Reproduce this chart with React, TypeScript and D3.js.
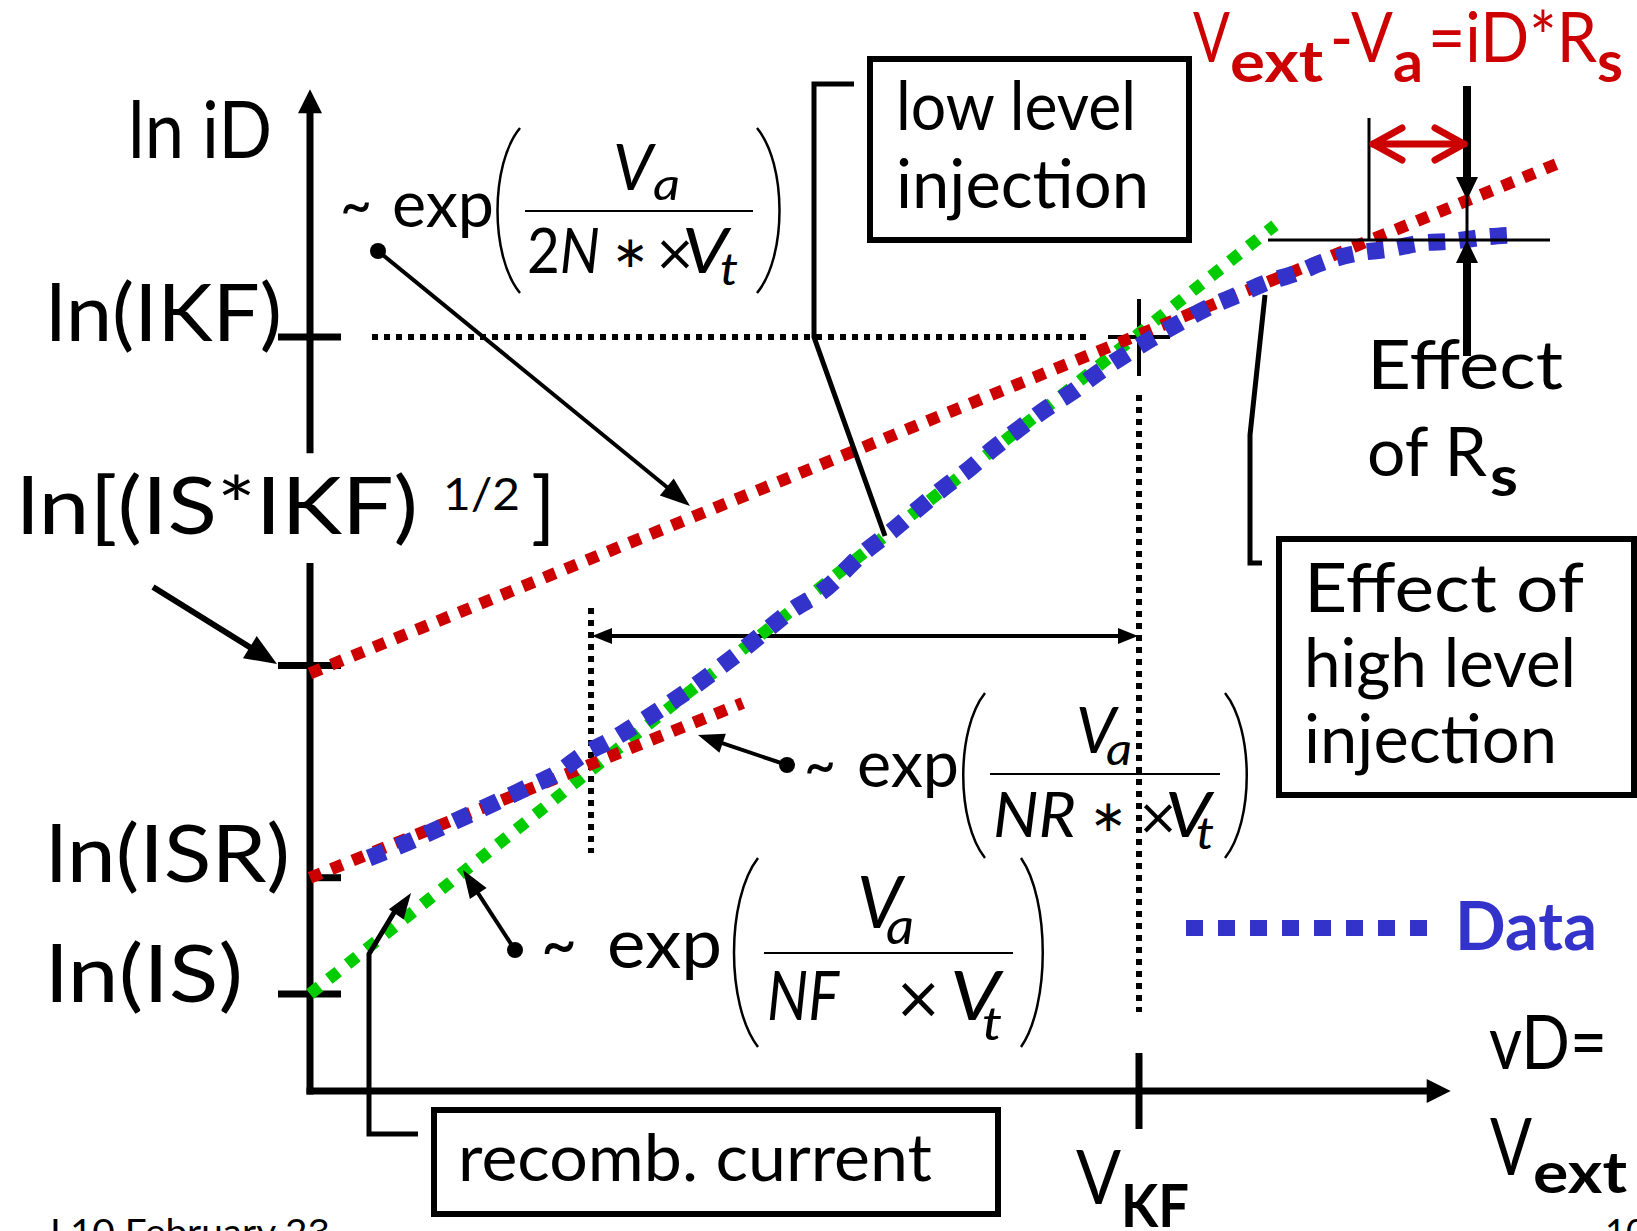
import React from "react";
import * as d3 from "d3";

const W = 1637;
const H = 1231;

// ---------- data (log-current units: ln(IS)=0, ln(IKF)=10; voltage units: VKF=1) ----------
const yTickLabels = ["ln(IKF)", "ln[(IS*IKF)", "ln(ISR)", "ln(IS)"];
const yTickValues = [10, 5, 1.77, 0];
const xTickLabels = ["V"];
const xTickValues = [1];

const greenX = [0, 1.164];
const greenY = [0, 11.7];
const redHighX = [0, 1.509];
const redHighY = [4.88, 12.66];
const redRecombX = [0, 0.522];
const redRecombY = [1.77, 4.43];

const dataX = [0.071, 0.122, 0.159, 0.228, 0.263, 0.298, 0.329, 0.361, 0.396, 0.427, 0.462, 0.493, 0.522, 0.554, 0.581, 0.615, 0.672, 0.703, 0.732, 0.764, 0.795, 0.824, 0.855, 0.887, 0.918, 0.949, 0.981, 1.012, 1.051, 1.082, 1.119, 1.152, 1.189, 1.227, 1.265, 1.303, 1.34, 1.379, 1.416, 1.448];
const dataY = [2.07, 2.33, 2.54, 2.94, 3.15, 3.36, 3.64, 3.85, 4.12, 4.37, 4.67, 4.96, 5.24, 5.57, 5.84, 6.1, 6.76, 7.06, 7.37, 7.7, 7.99, 8.3, 8.6, 8.9, 9.15, 9.44, 9.71, 9.95, 10.23, 10.44, 10.64, 10.82, 10.97, 11.16, 11.28, 11.34, 11.43, 11.46, 11.52, 11.55];

const axisXMax = 1.376;
const axisYMin = -1.476;
const axisYMax = 13.77;
const axisYGap = [6.56, 8.23];
const rangeStartX = 0.339;

const RED = "#CC0000";
const GREEN = "#00CC00";
const BLUE = "#3333CC";
const FONT = "Lato, 'DejaVu Sans', sans-serif";
const MATHFONT = "'DejaVu Sans', sans-serif";

function head(tx: number, ty: number, fx: number, fy: number, len: number, hw: number) {
  const dx = tx - fx, dy = ty - fy;
  const d = Math.hypot(dx, dy);
  const ux = dx / d, uy = dy / d;
  const bx = tx - ux * len, by = ty - uy * len;
  return `${tx},${ty} ${bx - uy * hw},${by + ux * hw} ${bx + uy * hw},${by - ux * hw}`;
}
function base(tx: number, ty: number, fx: number, fy: number, len: number) {
  const dx = tx - fx, dy = ty - fy;
  const d = Math.hypot(dx, dy);
  return [tx - (dx / d) * len, ty - (dy / d) * len];
}

function Pointer({ fx, fy, tx, ty, w = 4, len = 28, hw = 10, dot = true }: any) {
  const [bx, by] = base(tx, ty, fx, fy, len - 2);
  return (
    <g>
      {dot && <circle cx={fx} cy={fy} r={8} fill="#000" />}
      <line x1={fx} y1={fy} x2={bx} y2={by} stroke="#000" strokeWidth={w} />
      <polygon points={head(tx, ty, fx, fy, len, hw)} fill="#000" />
    </g>
  );
}

function T({ x, y, s, children, len, bold, italic, fill = "#000", anchor, family }: any) {
  return (
    <text
      x={x}
      y={y}
      fontSize={s}
      fontFamily={family || FONT}
      fontWeight={bold ? "bold" : "normal"}
      fontStyle={italic ? "italic" : "normal"}
      fill={fill}
      textAnchor={anchor}
      textLength={len}
      lengthAdjust={len ? "spacingAndGlyphs" : undefined}
    >
      {children}
    </text>
  );
}

function Paren({ xi, xo, y1, y2 }: any) {
  const h = y2 - y1;
  const d = `M${xi},${y1} C${xo},${y1 + h * 0.22} ${xo},${y2 - h * 0.22} ${xi},${y2}`;
  return <path d={d} fill="none" stroke="#000" strokeWidth={2.5} />;
}

export default function App() {
  const x = d3.scaleLinear().domain([0, 1]).range([310, 1139]);
  const y = d3.scaleLinear().domain([0, 10]).range([994, 337]);
  const line = d3.line<[number, number]>().x((d) => x(d[0])).y((d) => y(d[1]));
  const smooth = d3.line<[number, number]>().x((d) => x(d[0])).y((d) => y(d[1])).curve(d3.curveMonotoneX);
  const zip = (a: number[], b: number[]) => a.map((v, i) => [v, b[i]] as [number, number]);

  const x0 = x(0);
  const yb = y(axisYMin);
  const xe = x(axisXMax);
  const yt = y(axisYMax);
  const vkf = x(xTickValues[0]);
  const ikf = y(yTickValues[0]);
  const xr = x(rangeStartX);

  const tickLeft = [true, true, false, true];

  return (
    <svg width={W} height={H} viewBox={`0 0 ${W} ${H}`} style={{ position: "absolute", left: 0, top: 0, background: "#fff" }}>
      <rect x={0} y={0} width={W} height={H} fill="#fff" />

      {/* guide dotted lines */}
      <line x1={372} x2={1087} y1={ikf} y2={ikf} stroke="#000" strokeWidth={6} strokeDasharray="6 6" />
      <line x1={vkf} x2={vkf} y1={395} y2={1012} stroke="#000" strokeWidth={6} strokeDasharray="6 6" />
      <line x1={xr} x2={xr} y1={608} y2={853} stroke="#000" strokeWidth={6} strokeDasharray="6 6" />

      {/* double arrow between xr and VKF */}
      <line x1={xr + 15} x2={vkf - 15} y1={636} y2={636} stroke="#000" strokeWidth={4} />
      <polygon points={head(xr + 1, 636, vkf, 636, 20, 8)} fill="#000" />
      <polygon points={head(vkf - 1, 636, xr, 636, 20, 8)} fill="#000" />

      {/* axes */}
      <line x1={x0} x2={x0} y1={yt + 20} y2={y(axisYGap[1])} stroke="#000" strokeWidth={7} />
      <line x1={x0} x2={x0} y1={y(axisYGap[0])} y2={yb + 3.5} stroke="#000" strokeWidth={7} />
      <polygon points={`${x0},${yt} ${x0 - 12},${yt + 24} ${x0 + 12},${yt + 24}`} fill="#000" />
      <line x1={x0 - 3.5} x2={xe - 20} y1={yb} y2={yb} stroke="#000" strokeWidth={7} />
      <polygon points={`${xe},${yb} ${xe - 24},${yb - 12} ${xe - 24},${yb + 12}`} fill="#000" />

      {/* y ticks */}
      {yTickValues.map((v, i) => (
        <line key={i} x1={tickLeft[i] ? x0 - 32 : x0} x2={x0 + 31} y1={y(v)} y2={y(v)} stroke="#000" strokeWidth={7} />
      ))}
      {/* x tick */}
      <line x1={vkf} x2={vkf} y1={yb - 38} y2={yb + 38} stroke="#000" strokeWidth={7} />

      {/* crosshair */}
      <line x1={vkf} x2={vkf} y1={ikf - 38} y2={ikf + 39} stroke="#000" strokeWidth={4} />
      <line x1={vkf - 31} x2={vkf + 31} y1={ikf} y2={ikf} stroke="#000" strokeWidth={4} />

      {/* curves */}
      <path d={line(zip(greenX, greenY)) || ""} fill="none" stroke={GREEN} strokeWidth={12} strokeDasharray="12 12" />
      <path d={line(zip(redHighX, redHighY)) || ""} fill="none" stroke={RED} strokeWidth={12} strokeDasharray="12 11" />
      <path d={line(zip(redRecombX, redRecombY)) || ""} fill="none" stroke={RED} strokeWidth={12} strokeDasharray="12 11" />
      <path d={smooth(zip(dataX, dataY)) || ""} fill="none" stroke={BLUE} strokeWidth={17} strokeDasharray="17 14" />

      {/* Rs annotation */}
      <line x1={1268} x2={1550} y1={240} y2={240} stroke="#000" strokeWidth={3} />
      <line x1={1369} x2={1369} y1={118} y2={240} stroke="#000" strokeWidth={3} />
      <line x1={1467} x2={1467} y1={86} y2={180} stroke="#000" strokeWidth={8} />
      <polygon points="1467,200 1456,177 1478,177" fill="#000" />
      <line x1={1467} x2={1467} y1={198} y2={242} stroke="#000" strokeWidth={3} />
      <polygon points="1467,240 1456,263 1478,263" fill="#000" />
      <line x1={1467} x2={1467} y1={260} y2={356} stroke="#000" strokeWidth={8} />
      <g stroke={RED} strokeWidth={7} strokeLinecap="round" strokeLinejoin="round" fill="none">
        <line x1={1373} x2={1464} y1={144} y2={144} />
        <polyline points="1402,128 1373,144 1402,160" />
        <polyline points="1435,128 1464,144 1435,160" />
      </g>

      {/* brackets */}
      <polyline points={`854,84 814,84 814,${ikf} 885,536`} fill="none" stroke="#000" strokeWidth={5} />
      <polyline points="1262,563 1250,563 1250,435 1265,295" fill="none" stroke="#000" strokeWidth={5} />
      <polyline points="418,1134 369,1134 369,954 398,906" fill="none" stroke="#000" strokeWidth={5} />
      <polygon points={head(411, 893, 369, 954, 26, 9)} fill="#000" />

      {/* pointer arrows */}
      <Pointer fx={153} fy={587} tx={277} ty={664} w={6} len={32} hw={13} dot={false} />
      <Pointer fx={378} fy={251} tx={690} ty={506} w={4} len={30} hw={11} />
      <Pointer fx={787} fy={765} tx={698} ty={735} w={4} len={26} hw={10} />
      <Pointer fx={515} fy={950} tx={463} ty={870} w={4} len={28} hw={10} />

      {/* boxes */}
      <rect x={870} y={59} width={319} height={181} fill="none" stroke="#000" strokeWidth={6} />
      <rect x={1279} y={539} width={355} height={256} fill="none" stroke="#000" strokeWidth={6} />
      <rect x={434} y={1110} width={564} height={104} fill="none" stroke="#000" strokeWidth={6} />

      {/* legend */}
      <line x1={1186} x2={1427} y1={928} y2={928} stroke={BLUE} strokeWidth={16} strokeDasharray="17 15" />
      <T x={1455} y={950} s={66} len={142} bold fill={BLUE}>Data</T>

      {/* axis labels */}
      <T x={128} y={158} s={80} len={144}>ln iD</T>
      <T x={46} y={341} s={80} len={236}>{yTickLabels[0]}</T>
      <T x={17} y={534} s={80} len={401}>{yTickLabels[1]}</T>
      <T x={443} y={510} s={44} len={77}>1/2</T>
      <T x={531} y={534} s={80}>]</T>
      <T x={46} y={882} s={80} len={244}>{yTickLabels[2]}</T>
      <T x={46} y={1002} s={80} len={197}>{yTickLabels[3]}</T>
      <T x={1076} y={1204} s={76} len={45}>{xTickLabels[0]}</T>
      <T x={1121} y={1227} s={60} len={68} bold>KF</T>
      <T x={1489} y={1069} s={76} len={118}>vD=</T>
      <T x={1490} y={1175} s={80} len={42}>V</T>
      <T x={1533} y={1193} s={58} len={94} bold>ext</T>

      {/* footer */}
      <T x={50} y={1245} s={36} len={280}>L10 February 23</T>
      <T x={1605} y={1245} s={36}>10</T>

      {/* box texts */}
      <T x={896} y={130} s={68} len={240}>low level</T>
      <T x={896} y={208} s={68} len={253}>injection</T>
      <T x={1304} y={612} s={68} len={280}>Effect of</T>
      <T x={1304} y={687} s={68} len={272}>high level</T>
      <T x={1304} y={763} s={68} len={253}>injection</T>
      <T x={458} y={1181} s={66} len={474}>recomb. current</T>
      <T x={1367} y={389} s={68} len={196}>Effect</T>
      <T x={1367} y={476} s={68} len={120}>of R</T>
      <T x={1490} y={496} s={56} len={28} bold>s</T>

      {/* red formula */}
      <T x={1193} y={62} s={70} len={37} fill={RED}>V</T>
      <T x={1230} y={82} s={58} len={93} bold fill={RED}>ext</T>
      <T x={1330} y={62} s={70} len={63} fill={RED}>-V</T>
      <T x={1393} y={82} s={58} len={30} bold fill={RED}>a</T>
      <T x={1428} y={62} s={70} len={169} fill={RED}>=iD*R</T>
      <T x={1597} y={82} s={58} len={26} bold fill={RED}>s</T>

      {/* formula 1: high level injection slope */}
      <T x={340} y={227} s={64} len={32}>~</T>
      <T x={392} y={227} s={64} len={102}>exp</T>
      <Paren xi={520} xo={490} y1={128} y2={293} />
      <Paren xi={757} xo={787} y1={128} y2={293} />
      <line x1={525} x2={753} y1={211} y2={211} stroke="#000" strokeWidth={2} />
      <T x={613} y={190} s={64} len={40} italic>V</T>
      <T x={653} y={200} s={44} len={27} italic>a</T>
      <T x={527} y={273} s={62} len={73}>2<tspan fontStyle="italic">N</tspan></T>
      <T x={612} y={267} s={44} family={MATHFONT}>∗</T>
      <T x={654} y={270} s={50} family={MATHFONT}>×</T>
      <T x={682} y={273} s={62} len={46} italic>V</T>
      <T x={720} y={285} s={44} len={18} italic>t</T>

      {/* formula 2: recombination slope */}
      <T x={804} y={787} s={64} len={32}>~</T>
      <T x={857} y={787} s={64} len={102}>exp</T>
      <Paren xi={985} xo={956} y1={693} y2={858} />
      <Paren xi={1225} xo={1254} y1={693} y2={858} />
      <line x1={990} x2={1220} y1={774} y2={774} stroke="#000" strokeWidth={2} />
      <T x={1076} y={753} s={64} len={40} italic>V</T>
      <T x={1106} y={765} s={44} len={26} italic>a</T>
      <T x={993} y={837} s={62} len={83} italic>NR</T>
      <T x={1090} y={831} s={44} family={MATHFONT}>∗</T>
      <T x={1137} y={834} s={50} family={MATHFONT}>×</T>
      <T x={1165} y={837} s={62} len={46} italic>V</T>
      <T x={1196} y={849} s={44} len={18} italic>t</T>

      {/* formula 3: ideal diffusion slope */}
      <T x={541} y={968} s={70} len={36}>~</T>
      <T x={607} y={968} s={70} len={115}>exp</T>
      <Paren xi={758} xo={726} y1={858} y2={1047} />
      <Paren xi={1021} xo={1050} y1={858} y2={1047} />
      <line x1={764} x2={1013} y1={953} y2={953} stroke="#000" strokeWidth={2} />
      <T x={857} y={928} s={72} len={45} italic>V</T>
      <T x={886} y={944} s={50} len={28} italic>a</T>
      <T x={767} y={1020} s={68} len={72} italic>NF</T>
      <T x={894} y={1018} s={58} family={MATHFONT}>×</T>
      <T x={950} y={1020} s={68} len={50} italic>V</T>
      <T x={982} y={1040} s={46} len={20} italic>t</T>
    </svg>
  );
}
